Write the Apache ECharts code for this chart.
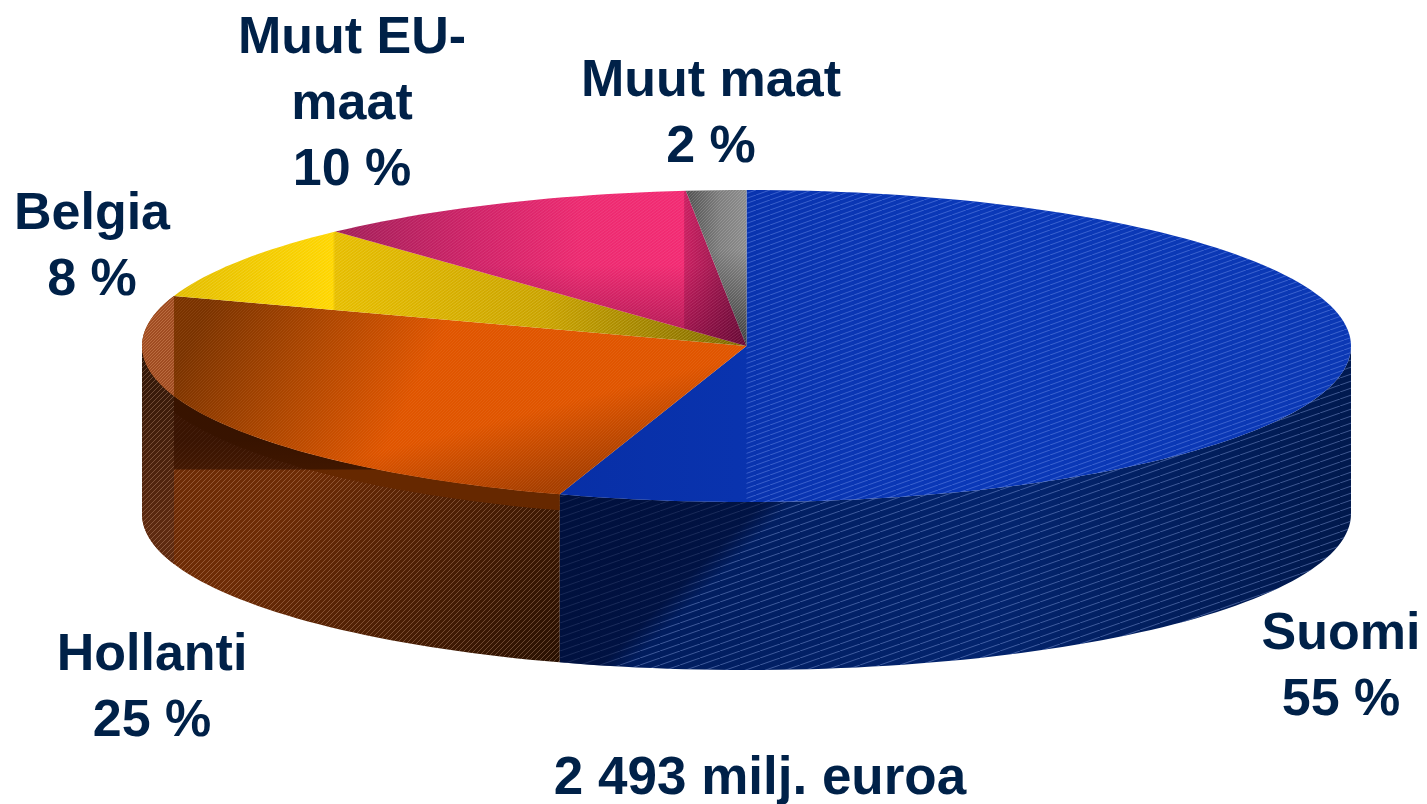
<!DOCTYPE html>
<html>
<head>
<meta charset="utf-8">
<style>
html, body { margin: 0; background: #fff; }
#chart { width: 1427px; height: 804px; }
</style>
<script src="https://cdn.jsdelivr.net/npm/echarts@6/dist/echarts.min.js"></script>
</head>
<body>
<div id="chart"></div>
<script>
// starts at 12 o'clock and runs clockwise
const categories = ['Suomi', 'Hollanti', 'Belgia', 'Muut EU-\nmaat', 'Muut maat'];
const shares = [55, 25.2, 7.9, 10.3, 1.6];
const totalLabel = '2 493 milj. euroa';

// disc geometry
const cx = 746.5, cy = 346, rx = 604.5, ry = 156, depth = 168;
const textColor = '#002148';
const labelFont = '"Liberation Sans", Arial, sans-serif';
const labelPos = [[1341, 668], [152, 689], [92, 248], [352, 105], [711, 115]];

const linear = (x0, y0, x1, y1, stops) => new echarts.graphic.LinearGradient(
    x0, y0, x1, y1, stops.map(s => ({ offset: s[0], color: s[1] })), true
);

// thin diagonal line tile for the printed hatch look
function hatch(w, h, color) {
    const c = document.createElement('canvas');
    c.width = w;
    c.height = h;
    const ctx = c.getContext('2d');
    ctx.strokeStyle = color;
    ctx.lineWidth = 1;
    [-w, 0, w].forEach(dx => {
        ctx.beginPath();
        ctx.moveTo(dx, h);
        ctx.lineTo(dx + w, 0);
        ctx.stroke();
    });
    return { image: c, repeat: 'repeat' };
}

const rad = deg => deg * Math.PI / 180;
const rim = (deg, dy) => [cx + rx * Math.sin(rad(deg)), cy - ry * Math.cos(rad(deg)) + (dy || 0)];

function arc(a0, a1, dy) {
    const pts = [];
    const n = Math.max(2, Math.ceil(Math.abs(a1 - a0) / 1.5));
    for (let i = 0; i <= n; i++) pts.push(rim(a0 + (a1 - a0) * i / n, dy));
    return pts;
}

const poly = (points, style) => ({ type: 'polygon', silent: true, shape: { points }, style });
const sector = (a0, a1) => [[cx, cy]].concat(arc(a0, a1));
const wall = (a0, a1, d) => arc(a0, a1).concat(arc(a1, a0, d || depth));

const blueHatch = hatch(14, 5, 'rgba(150,180,255,0.34)');
const blueWallHatch = hatch(20, 7, 'rgba(170,195,255,0.36)');
const brownHatch = hatch(5, 5, 'rgba(235,190,160,0.30)');
const orangeHatch = hatch(3, 3, 'rgba(255,190,140,0.28)');
const yellowHatch = hatch(4, 3, 'rgba(255,245,150,0.22)');
const pinkHatch = hatch(4, 3, 'rgba(255,170,200,0.16)');
const grayHatch = hatch(3, 3, 'rgba(255,255,255,0.16)');

const painters = [
    function suomi(a0, a1) {
        const front = Math.max(a0, 90);
        return [
            poly(wall(front, a1), { fill: linear(560, 500, 1351, 690, [[0, '#001a58'], [0.55, '#03246e'], [1, '#001748']]) }),
            poly(wall(front, a1), { fill: blueWallHatch }),
            // darker triangle next to the seam
            poly(wall(front, a1), {
                fill: linear(630, 565, 680, 615, [[0, 'rgba(0,10,45,0.62)'], [0.7, 'rgba(0,10,45,0.55)'], [1, 'rgba(0,10,45,0)']])
            }),
            poly(sector(a0, a1), { fill: linear(560, 0, 1351, 0, [[0, '#082fa6'], [0.5, '#0a38b8'], [1, '#0b38b4']]) }),
            poly(sector(a0, 180), { fill: blueHatch })
        ];
    },
    function hollanti(a0, a1) {
        const front = Math.min(a1, 270);
        const bandStart = 540 - a1;
        return [
            poly(wall(a0, front), { fill: linear(300, 480, 570, 670, [[0, '#6e2c06'], [1, '#261002']]) }),
            poly(wall(a0, front), { fill: brownHatch }),
            poly(wall(a0, front, 16), { fill: '#662800' }),
            // shadow under the lip, stops at a straight line
            poly(wall(a0, front), {
                fill: linear(0, 440, 0, 470, [[0, 'rgba(40,12,0,0.75)'], [0.97, 'rgba(40,12,0,0.62)'], [1, 'rgba(40,12,0,0)']])
            }),
            // left band keeps its hatch all the way up
            poly(wall(bandStart, front), { fill: linear(0, 350, 0, 530, [[0, '#2e1608'], [1, '#5e2a10']]) }),
            poly(wall(bandStart, front), { fill: brownHatch }),
            poly(sector(a0, a1), {
                fill: linear(200, 320, 400, 420, [[0, '#7a3300'], [0.5, '#ad4600'], [1, '#e05500']])
            }),
            poly(sector(a0, a1), {
                fill: linear(500, 420, 520, 495, [[0, 'rgba(110,40,0,0)'], [1, 'rgba(110,40,0,0.5)']])
            }),
            poly(sector(a0, a1), { fill: orangeHatch, opacity: 0.35 }),
            // lighter band at the far left edge
            poly(arc(bandStart, a1), { fill: '#a04c22' }),
            poly(arc(bandStart, a1), { fill: orangeHatch })
        ];
    },
    function belgia(a0, a1) {
        return [
            poly(sector(a0, a1), {
                fill: linear(172, 0, 745, 0, [[0, '#e2bc00'], [0.28, '#ffd600'], [0.285, '#e6bd00'], [0.65, '#c9a200'], [1, '#7c6600']])
            }),
            poly(sector(a0, a1), { fill: yellowHatch })
        ];
    },
    function muutEu(a0, a1) {
        return [
            poly(sector(a0, a1), {
                fill: linear(335, 0, 745, 0, [[0, '#a01f58'], [0.35, '#d02368'], [0.6, '#ec2a70'], [0.85, '#f22a72'], [0.853, '#c81f60'], [1, '#7a1140']])
            }),
            poly(sector(a0, a1), { fill: linear(0, 265, 0, 335, [[0, 'rgba(80,0,40,0)'], [1, 'rgba(80,0,40,0.4)']]) }),
            poly(sector(a0, a1), { fill: pinkHatch })
        ];
    },
    function muutMaat(a0, a1) {
        return [
            poly(sector(a0, a1), {
                fill: linear(683, 0, 745, 0, [[0, '#4d4d4d'], [0.6, '#7e7e7e'], [1, '#8c8c8c']])
            }),
            poly(sector(a0, a1), { fill: linear(0, 250, 0, 345, [[0, 'rgba(0,0,0,0)'], [1, 'rgba(0,0,0,0.55)']]) }),
            poly(sector(a0, a1), { fill: grayHatch })
        ];
    }
];

function renderSlice(params, api) {
    const i = params.dataIndex;
    const before = shares.slice(0, i).reduce((a, b) => a + b, 0);
    const a0 = before * 3.6;
    const a1 = a0 + api.value(0) * 3.6;
    const children = painters[i](a0, a1);
    const lines = categories[i] + '\n' + Math.round(api.value(0)) + ' %';
    children.push({
        type: 'text',
        silent: true,
        z2: 10,
        style: {
            x: labelPos[i][0],
            y: labelPos[i][1],
            text: lines,
            fill: textColor,
            font: 'bold 52px ' + labelFont,
            lineHeight: 66,
            align: 'center',
            verticalAlign: 'middle'
        }
    });
    return { type: 'group', children };
}

const chart = echarts.init(document.getElementById('chart'));
chart.setOption({
    animation: false,
    backgroundColor: '#fff',
    title: {
        text: totalLabel,
        left: 755,
        top: 744,
        textAlign: 'center',
        textStyle: {
            color: textColor,
            fontFamily: labelFont,
            fontWeight: 'bold',
            fontSize: 53,
            lineHeight: 60
        }
    },
    series: [{
        type: 'custom',
        coordinateSystem: 'none',
        silent: true,
        clip: false,
        data: shares.map(v => [v]),
        encode: { value: 0 },
        renderItem: renderSlice
    }]
});

window.addEventListener('resize', () => chart.resize());
</script>
</body>
</html>
